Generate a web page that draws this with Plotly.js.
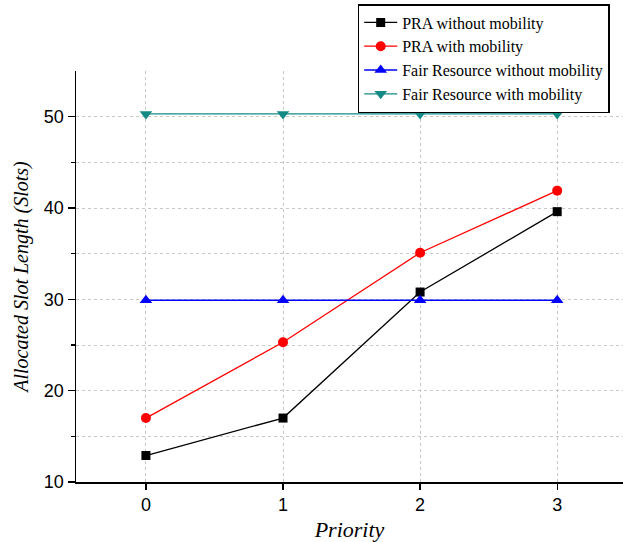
<!DOCTYPE html>
<html>
<head>
<meta charset="utf-8">
<script src="https://cdn.plot.ly/plotly-3.0.1.min.js"></script>
<style>
  html, body { margin: 0; padding: 0; background: #fff; }
  #chart { width: 623px; height: 542px; }
</style>
</head>
<body>
<div id="chart"></div>
<script>
// Priority levels on the x axis
const priority = [0, 1, 2, 3];

// Allocated slot length per priority for each scheme
const praWithoutMobility = [12.9, 17.0, 30.8, 39.6];
const praWithMobility = [17.0, 25.3, 35.1, 41.9];
const fairWithoutMobility = [29.9, 29.9, 29.9, 29.9];
const fairWithMobility = [50.3, 50.3, 50.3, 50.3];

const seriesNames = [
  'PRA without mobility',
  'PRA with mobility',
  'Fair Resource without mobility',
  'Fair Resource with mobility'
];

const colors = ['#000000', '#ff0000', '#0000ff', '#138a84'];
const symbols = ['square', 'circle', 'triangle-up', 'triangle-down'];
const sizes = [9, 10, 11, 11];
const values = [praWithoutMobility, praWithMobility, fairWithoutMobility, fairWithMobility];

const traces = values.map((v, i) => ({
  x: priority,
  y: v,
  name: seriesNames[i],
  type: 'scatter',
  mode: 'lines+markers',
  line: { color: colors[i], width: 1.3 },
  marker: { color: colors[i], symbol: symbols[i], size: sizes[i] }
}));

const layout = {
  width: 623,
  height: 542,
  margin: { l: 76, r: 0, t: 71, b: 60 },
  paper_bgcolor: '#ffffff',
  plot_bgcolor: '#ffffff',
  showlegend: true,
  legend: {
    x: 0.515, y: 1.163, xanchor: 'left', yanchor: 'top',
    bgcolor: '#ffffff',
    bordercolor: '#000000', borderwidth: 1.5,
    font: { family: 'Liberation Serif, Times New Roman, serif', size: 16, color: '#000' },
    tracegroupgap: 0,
    itemwidth: 33
  },
  xaxis: {
    range: [-0.51, 3.48],
    tickvals: priority,
    ticktext: priority.map(String),
    ticks: 'outside', ticklen: 6, tickwidth: 1.3, tickcolor: '#000',
    showline: true, linecolor: '#000', linewidth: 1.5,
    showgrid: true, gridcolor: '#c8c8c8', griddash: 'dot', gridwidth: 1,
    zeroline: false,
    tickfont: { family: 'Liberation Sans, Arial, sans-serif', size: 18, color: '#000' },
    title: {
      text: 'Priority',
      font: { family: 'Liberation Serif, Times New Roman, serif', size: 22, color: '#000', style: 'italic' },
      standoff: 15
    }
  },
  yaxis: {
    range: [10, 55],
    tickvals: [10, 20, 30, 40, 50],
    ticks: 'outside', ticklen: 7, tickwidth: 1.3, tickcolor: '#000',
    showline: true, linecolor: '#000', linewidth: 1.5,
    showgrid: true, gridcolor: '#c8c8c8', griddash: 'dot', gridwidth: 1,
    zeroline: false,
    minor: {
      tickvals: [15, 25, 35, 45],
      ticks: 'outside', ticklen: 4, tickcolor: '#000',
      showgrid: true, gridcolor: '#c8c8c8', griddash: 'dot', gridwidth: 1
    },
    tickfont: { family: 'Liberation Sans, Arial, sans-serif', size: 18, color: '#000' },
    title: {
      text: 'Allocated Slot Length (Slots)',
      font: { family: 'Liberation Serif, Times New Roman, serif', size: 20, color: '#000', style: 'italic' },
      standoff: 10
    }
  }
};

Plotly.newPlot('chart', traces, layout, { displayModeBar: false, staticPlot: true });
</script>
</body>
</html>
